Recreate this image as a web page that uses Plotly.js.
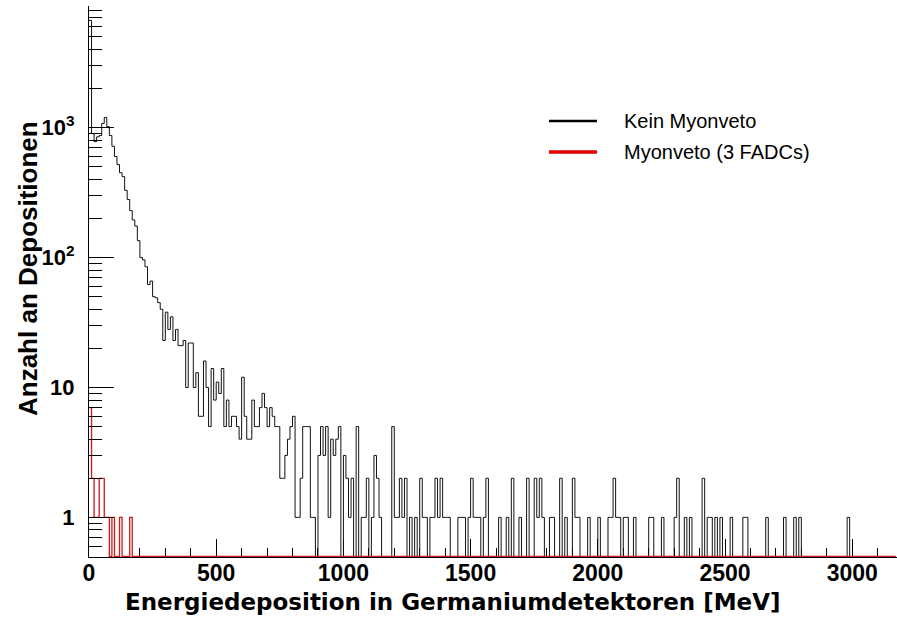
<!DOCTYPE html>
<html>
<head>
<meta charset="utf-8">
<script src="https://cdn.plot.ly/plotly-3.0.1.min.js"></script>
<style>html,body{margin:0;padding:0;background:#fff;}#chart{width:897px;height:617px;}</style>
</head>
<body>
<div id="chart"></div>
<script>
// Bin width of the energy histogram (MeV)
const binWidth = 10;

// Counts per 10 MeV bin, "Kein Myonveto"
const blackCounts = [
  6700, 900, 780, 850, 870, 1080, 1200, 1020, 870, 720,
  600, 520, 450, 420, 330, 280, 230, 195, 175, 135,
  100, 96, 85, 62, 66, 50, 49, 45, 40, 23,
  38, 28, 35, 23, 28, 21, 21, 23, 10, 22,
  22, 10, 13, 6, 6, 16, 10, 5, 14, 8,
  11, 9, 14, 5, 8, 5, 6, 6, 5, 4,
  12, 6, 4, 4, 8, 5, 5, 7, 9, 7,
  5, 7, 6, 5, 5, 2, 2, 3, 4, 5,
  6, 1, 1, 2, 5, 5, 5, 1, 1, 0,
  3, 5, 3, 5, 1, 4, 3, 4, 5, 0,
  3, 2, 1, 2, 0, 5, 0, 1, 1, 2,
  0, 1, 3, 2, 1, 0, 0, 0, 0, 5,
  1, 1, 2, 1, 2, 0, 1, 0, 1, 0,
  2, 1, 1, 0, 1, 1, 2, 1, 2, 1,
  1, 1, 0, 0, 0, 1, 1, 1, 0, 1,
  2, 1, 1, 1, 0, 1, 2, 0, 0, 0,
  0, 1, 0, 0, 1, 0, 2, 0, 0, 1,
  0, 0, 2, 0, 0, 2, 1, 2, 1, 0,
  0, 1, 1, 0, 0, 2, 0, 1, 0, 0,
  2, 1, 1, 0, 0, 0, 1, 0, 0, 0,
  1, 0, 0, 0, 1, 1, 2, 1, 1, 0,
  1, 1, 0, 0, 1, 0, 0, 0, 0, 0,
  1, 1, 0, 0, 0, 1, 0, 0, 0, 0,
  1, 2, 0, 0, 1, 0, 1, 0, 0, 0,
  0, 2, 0, 1, 1, 0, 1, 0, 1, 0,
  0, 0, 1, 0, 0, 0, 0, 1, 1, 0,
  0, 0, 0, 0, 0, 0, 1, 0, 0, 0,
  0, 0, 0, 1, 0, 0, 0, 1, 0, 1,
  0, 0, 0, 0, 0, 0, 0, 0, 0, 0,
  0, 0, 0, 0, 0, 0, 0, 0, 1, 0,
  0, 0, 0, 0, 0, 0, 0, 0, 0, 0,
  0, 0, 0, 0, 0, 0, 0
];

// Counts per 10 MeV bin, "Myonveto (3 FADCs)"
const redCounts = [
  7, 2, 1, 1, 2, 2, 1, 1, 0, 1, 0, 0, 1, 0, 0, 0, 1, 0, 0, 0,
  0, 0, 0, 0, 0, 0, 0, 0, 0, 0, 0, 0, 0, 0, 0, 0, 0, 0, 0, 0,
  0, 0, 0, 0, 0, 0, 0, 0, 0, 0, 0, 0, 0, 0, 0, 0, 0, 0, 0, 0,
  0, 0, 0, 0, 0, 0, 0, 0, 0, 0, 0, 0, 0, 0, 0, 0, 0, 0, 0, 0,
  0, 0, 0, 0, 0, 0, 0, 0, 0, 0, 0, 0, 0, 0, 0, 0, 0, 0, 0, 0,
  0, 0, 0, 0, 0, 0, 0, 0, 0, 0, 0, 0, 0, 0, 0, 0, 0, 0, 0, 0,
  0, 0, 0, 0, 0, 0, 0, 0, 0, 0, 0, 0, 0, 0, 0, 0, 0, 0, 0, 0,
  0, 0, 0, 0, 0, 0, 0, 0, 0, 0, 0, 0, 0, 0, 0, 0, 0, 0, 0, 0,
  0, 0, 0, 0, 0, 0, 0, 0, 0, 0, 0, 0, 0, 0, 0, 0, 0, 0, 0, 0,
  0, 0, 0, 0, 0, 0, 0, 0, 0, 0, 0, 0, 0, 0, 0, 0, 0, 0, 0, 0,
  0, 0, 0, 0, 0, 0, 0, 0, 0, 0, 0, 0, 0, 0, 0, 0, 0, 0, 0, 0,
  0, 0, 0, 0, 0, 0, 0, 0, 0, 0, 0, 0, 0, 0, 0, 0, 0, 0, 0, 0,
  0, 0, 0, 0, 0, 0, 0, 0, 0, 0, 0, 0, 0, 0, 0, 0, 0, 0, 0, 0,
  0, 0, 0, 0, 0, 0, 0, 0, 0, 0, 0, 0, 0, 0, 0, 0, 0, 0, 0, 0,
  0, 0, 0, 0, 0, 0, 0, 0, 0, 0, 0, 0, 0, 0, 0, 0, 0, 0, 0, 0,
  0, 0, 0, 0, 0, 0, 0, 0, 0, 0, 0, 0, 0, 0, 0, 0, 0
];

const seriesNames = ['Kein Myonveto', 'Myonveto (3 FADCs)'];
const xTickVals = [0, 500, 1000, 1500, 2000, 2500, 3000];
const xTickText = ['0', '500', '1000', '1500', '2000', '2500', '3000'];
const yTickVals = [1, 10, 100, 1000];
const yTickText = ['1', '10', '10<sup>2</sup>', '10<sup>3</sup>'];
const xTitle = 'Energiedeposition in Germaniumdetektoren [MeV]';
const yTitle = 'Anzahl an Depositionen';

// ---- drawing ----
const W = 897, H = 617;
const M = {l: 89, r: 0, t: 6, b: 60};
const yFloor = 0.5;                 // frame minimum (empty bins drawn here, like ROOT)
const yRange = [Math.log10(yFloor) - 0.004, 3.937];
const xRange = [0, 3176];

function stepTrace(counts, name, color, width) {
  const x = [], y = [];
  counts.forEach((c, i) => { x.push(i * binWidth); y.push(c > 0 ? c : yFloor); });
  x.push(counts.length * binWidth);
  y.push(counts[counts.length - 1] > 0 ? counts[counts.length - 1] : yFloor);
  return {
    type: 'scatter', mode: 'lines', x: x, y: y, name: name,
    line: {shape: 'hv', color: color, width: width},
    showlegend: false, hoverinfo: 'skip'
  };
}

// minor log ticks 2..9 per decade
const yMinor = [];
[0.1, 1, 10, 100, 1000].forEach(d => { for (let k = 2; k <= 9; k++) { const v = k * d; if (v > 0.55 && v < 8600) yMinor.push(v); } });

const pw = W - M.l - M.r, ph = H - M.t - M.b;
const px = x => (x - M.l) / pw;
const py = y => (H - M.b - y) / ph;

const blackColor = '#000000';
const redColor = '#e00000';

const traces = [
  stepTrace(blackCounts, seriesNames[0], '#111111', 1),
  stepTrace(redCounts, seriesNames[1], '#d01818', 1.3)
];

const layout = {
  width: W, height: H,
  margin: M,
  paper_bgcolor: '#fff', plot_bgcolor: '#fff',
  showlegend: false,
  xaxis: {
    type: 'linear', range: xRange, showgrid: false, zeroline: false,
    showline: true, linecolor: '#000', linewidth: 1, layer: 'below traces',
    tickmode: 'array', tickvals: xTickVals, ticktext: xTickText,
    ticks: 'inside', ticklen: 18, tickwidth: 1, tickcolor: '#000',
    tickfont: {family: 'Liberation Sans, Arial, sans-serif', size: 23, color: '#000', weight: 'bold'},
    ticklabelstandoff: -5,
    minor: {dtick: 100, tick0: 0, ticks: 'inside', ticklen: 9, tickwidth: 1, tickcolor: '#000', showgrid: false}
  },
  yaxis: {
    type: 'log', range: yRange, showgrid: false, zeroline: false,
    showline: true, linecolor: '#000', linewidth: 1,
    tickmode: 'array', tickvals: yTickVals, ticktext: yTickText,
    ticks: 'inside', ticklen: 25, tickwidth: 1, tickcolor: '#000',
    tickfont: {family: 'Liberation Sans, Arial, sans-serif', size: 22, color: '#000', weight: 'bold'},
    ticklabelstandoff: 9,
    minor: {tickmode: 'array', tickvals: yMinor, ticks: 'inside', ticklen: 13, tickwidth: 1, tickcolor: '#000', showgrid: false}
  },
  shapes: [
    {type: 'line', xref: 'paper', yref: 'paper', x0: px(549), x1: px(597), y0: py(121), y1: py(121), line: {color: blackColor, width: 2.5}},
    {type: 'line', xref: 'paper', yref: 'paper', x0: px(549), x1: px(597), y0: py(152), y1: py(152), line: {color: redColor, width: 3.5}}
  ],
  annotations: [
    {xref: 'paper', yref: 'paper', x: px(622), y: py(121), xanchor: 'left', yanchor: 'middle', showarrow: false,
     text: seriesNames[0], font: {family: 'Liberation Sans, Arial, sans-serif', size: 20, color: '#000'}},
    {xref: 'paper', yref: 'paper', x: px(622), y: py(152), xanchor: 'left', yanchor: 'middle', showarrow: false,
     text: seriesNames[1], font: {family: 'Liberation Sans, Arial, sans-serif', size: 20, color: '#000'}},
    {xref: 'paper', yref: 'paper', x: px(453), y: py(602), xanchor: 'center', yanchor: 'middle', showarrow: false,
     text: xTitle, font: {family: 'DejaVu Sans, sans-serif', size: 23, color: '#000', weight: 'bold'}},
    {xref: 'paper', yref: 'paper', x: px(28), y: py(269), xanchor: 'center', yanchor: 'middle', showarrow: false, textangle: -90,
     text: yTitle, font: {family: 'Liberation Sans, Arial, sans-serif', size: 26, color: '#000', weight: 'bold'}}
  ]
};

Plotly.newPlot('chart', traces, layout, {staticPlot: true, displayModeBar: false});
</script>
</body>
</html>
